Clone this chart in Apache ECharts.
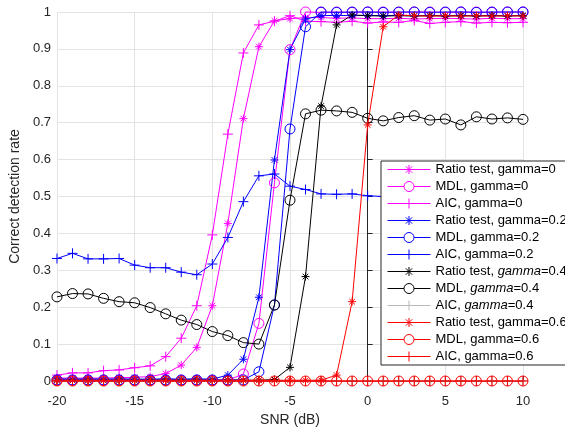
<!DOCTYPE html>
<html>
<head>
<meta charset="utf-8">
<script src="https://cdn.jsdelivr.net/npm/echarts@6/dist/echarts.min.js"></script>
<style>html,body{margin:0;padding:0;background:#fff}#c{width:565px;height:433px}</style>
</head>
<body>
<div id="c"></div>
<script>
const snr = [-20,-19,-18,-17,-16,-15,-14,-13,-12,-11,-10,-9,-8,-7,-6,-5,-4,-3,-2,-1,0,1,2,3,4,5,6,7,8,9,10];
const xTicks = [-20,-15,-10,-5,0,5,10];
const yTicks = [0,0.1,0.2,0.3,0.4,0.5,0.6,0.7,0.8,0.9,1];

const ratio0 = [0.008,0.008,0.008,0.008,0.009,0.010,0.012,0.020,0.043,0.091,0.204,0.427,0.711,0.906,0.976,0.982,0.985,0.985,0.983,0.984,0.982,0.982,0.983,0.981,0.982,0.983,0.982,0.981,0.983,0.982,0.982];
const mdl0   = [0.002,0.002,0.002,0.002,0.002,0.002,0.002,0.002,0.002,0.002,0.002,0.002,0.019,0.156,0.537,0.898,1.0,0.999,1.0,0.999,1.0,1.0,0.999,1.0,1.0,0.999,1.0,1.0,0.999,1.0,1.0];
const aic0   = [0.016,0.022,0.022,0.028,0.030,0.036,0.041,0.066,0.116,0.204,0.396,0.669,0.889,0.965,0.975,0.990,0.975,0.974,0.972,0.975,0.970,0.973,0.972,0.977,0.969,0.972,0.974,0.970,0.972,0.971,0.972];
const ratio2 = [0.006,0.005,0.006,0.005,0.006,0.005,0.005,0.006,0.005,0.006,0.005,0.016,0.059,0.227,0.599,0.898,0.981,0.990,0.991,0.990,0.991,0.990,0.991,0.990,0.991,0.990,0.991,0.990,0.991,0.990,0.991];
const mdl2   = [0.003,0.003,0.003,0.003,0.003,0.003,0.003,0.003,0.003,0.003,0.003,0.003,0.003,0.025,0.206,0.683,0.960,1.0,0.999,1.0,1.0,0.999,1.0,1.0,0.999,1.0,1.0,0.999,1.0,1.0,1.0];
const aic2   = [0.332,0.346,0.331,0.331,0.332,0.314,0.307,0.307,0.295,0.288,0.317,0.389,0.486,0.556,0.561,0.528,0.519,0.507,0.506,0.507,0.502,0.500,0.501,0.499,0.500,0.498,0.500,0.501,0.499,0.500,0.500];
const ratio4 = [0.002,0.002,0.002,0.002,0.002,0.002,0.002,0.002,0.002,0.002,0.002,0.002,0.002,0.002,0.004,0.037,0.283,0.745,0.965,0.992,0.990,0.989,0.990,0.989,0.990,0.989,0.990,0.989,0.990,0.989,0.990];
const mdl4   = [0.228,0.237,0.236,0.224,0.215,0.212,0.199,0.182,0.165,0.153,0.134,0.123,0.104,0.100,0.206,0.490,0.724,0.734,0.732,0.728,0.712,0.705,0.714,0.719,0.707,0.710,0.694,0.716,0.710,0.713,0.709];
const aic4   = [0,0,0,0,0,0,0,0,0,0,0,0,0,0,0,0,0,0,0,0,0,0,0,0,0,0,0,0,0,0,0];
const ratio6 = [0.002,0.002,0.002,0.002,0.002,0.002,0.002,0.002,0.002,0.002,0.002,0.002,0.002,0.002,0.002,0.002,0.002,0.002,0.016,0.215,0.694,0.960,0.992,0.990,0.989,0.990,0.989,0.990,0.989,0.990,0.989];
const mdl6   = [0,0,0,0,0,0,0,0,0,0,0,0,0,0,0,0,0,0,0,0,0,0,0,0,0,0,0,0,0,0,0];
const aic6   = [0,0,0,0,0,0,0,0,0,0,0,0,0,0,0,0,0,0,0,0,0,0,0,0,0,0,0,0,0,0,0];

const names = ['Ratio test, gamma=0','MDL, gamma=0','AIC, gamma=0',
  'Ratio test, gamma=0.2','MDL, gamma=0.2','AIC, gamma=0.2',
  'Ratio test, gamma=0.4','MDL, gamma=0.4','AIC, gamma=0.4',
  'Ratio test, gamma=0.6','MDL, gamma=0.6','AIC, gamma=0.6'];
const values = [ratio0,mdl0,aic0,ratio2,mdl2,aic2,ratio4,mdl4,aic4,ratio6,mdl6,aic6];
const lineColors = ['#ff00ff','#ff00ff','#ff00ff','#0000ff','#0000ff','#0000ff','#000000','#000000','#e0e0e0','#ff0000','#ff0000','#ff0000'];
const markColors = ['#ff00ff','#ff00ff','#ff00ff','#0000ff','#0000ff','#0000ff','#000000','#000000','#808080','#ff0000','#ff0000','#ff0000'];
const kinds = ['star','circle','plus','star','circle','plus','star','circle','plus','star','circle','plus'];

const SYM = {
  star: 'path://M5,0L5,10M0,5L10,5M1.5,1.5L8.5,8.5M1.5,8.5L8.5,1.5',
  plus: 'path://M5,0L5,10M0,5L10,5',
  circle: 'circle'
};
const LEG_SYM = {
  star: 'path://M0,5L43,5M21.5,0.5L21.5,9.5M17,5L26,5M18.3,1.8L24.7,8.2M18.3,8.2L24.7,1.8M21.5,0L21.5,0.01M21.5,10L21.5,10.01',
  plus: 'path://M0,5L43,5M21.5,0L21.5,10M16.5,5L26.5,5',
  plusGrey: 'path://M0,5L43,5M21.5,0L21.5,10',
  circle: 'path://M0,5L16.5,5M26.5,5L43,5M26.5,5A5,5 0 1 1 16.5,5A5,5 0 1 1 26.5,5'
};
const SIZE = {star: 8, plus: 10, circle: 10};

const font = 'Liberation Sans, Arial, Helvetica, sans-serif';
const txt = '#262626';

const series = names.map((n, i) => ({
  name: n,
  type: 'line',
  data: snr.map((x, j) => [x, values[i][j]]),
  symbol: SYM[kinds[i]],
  symbolSize: SIZE[kinds[i]],
  showAllSymbol: true,
  clip: false,
  animation: false,
  lineStyle: {color: lineColors[i], width: 1},
  itemStyle: {color: 'none', borderColor: markColors[i], borderWidth: 1},
  emphasis: {disabled: true}
}));

const legendData = names.map((n, i) => ({
  name: n,
  icon: (i === 8) ? LEG_SYM.plusGrey : LEG_SYM[kinds[i]],
  itemStyle: {color: 'none', borderColor: (i === 8) ? '#b8b8b8' : markColors[i], borderWidth: 1}
}));

const chart = echarts.init(document.getElementById('c'), null, {renderer: 'canvas'});
chart.setOption({
  backgroundColor: '#fff',
  animation: false,
  grid: {left: 54, right: 42, top: 12, bottom: 52, containLabel: false},
  xAxis: {
    type: 'value', min: -20, max: 10, interval: 5,
    name: 'SNR (dB)', nameLocation: 'middle', nameGap: 28,
    nameTextStyle: {fontFamily: font, fontSize: 14, color: txt},
    axisLine: {show: true, onZero: false, lineStyle: {color: txt, width: 1}},
    axisTick: {show: true, inside: true, length: 5, lineStyle: {color: txt}},
    axisLabel: {fontFamily: font, fontSize: 13, color: txt, margin: 14,
      formatter: v => xTicks.includes(v) ? String(v) : ''},
    splitLine: {show: true, lineStyle: {color: '#e3e3e3', width: 1}}
  },
  yAxis: {
    type: 'value', min: 0, max: 1, interval: 0.1,
    name: 'Correct detection rate', nameLocation: 'middle', nameGap: 30,
    nameTextStyle: {fontFamily: font, fontSize: 14, color: txt},
    axisLine: {show: true, lineStyle: {color: txt, width: 1}},
    axisTick: {show: true, inside: true, length: 5, lineStyle: {color: txt}},
    axisLabel: {fontFamily: font, fontSize: 13, color: txt, margin: 6,
      formatter: v => { const t = yTicks.find(y => Math.abs(y - v) < 1e-9); return t === undefined ? '' : String(t); }},
    splitLine: {show: true, lineStyle: {color: '#e3e3e3', width: 1}}
  },
  legend: {
    orient: 'vertical', left: 381, top: 161,
    backgroundColor: '#fff', borderColor: '#262626', borderWidth: 1,
    padding: [0, 6, 0, 4], itemGap: 0, itemWidth: 43, itemHeight: 10,
    textStyle: {fontFamily: font, fontSize: 13, color: '#000', lineHeight: 17,
      rich: {i: {fontFamily: font, fontSize: 13, fontStyle: 'italic', color: '#000'}}},
    formatter: n => (n.indexOf('0.4') >= 0) ? n.replace('gamma', '{i|gamma}') : n,
    data: legendData,
    selectedMode: false
  },
  series: series
});
</script>
</body>
</html>
